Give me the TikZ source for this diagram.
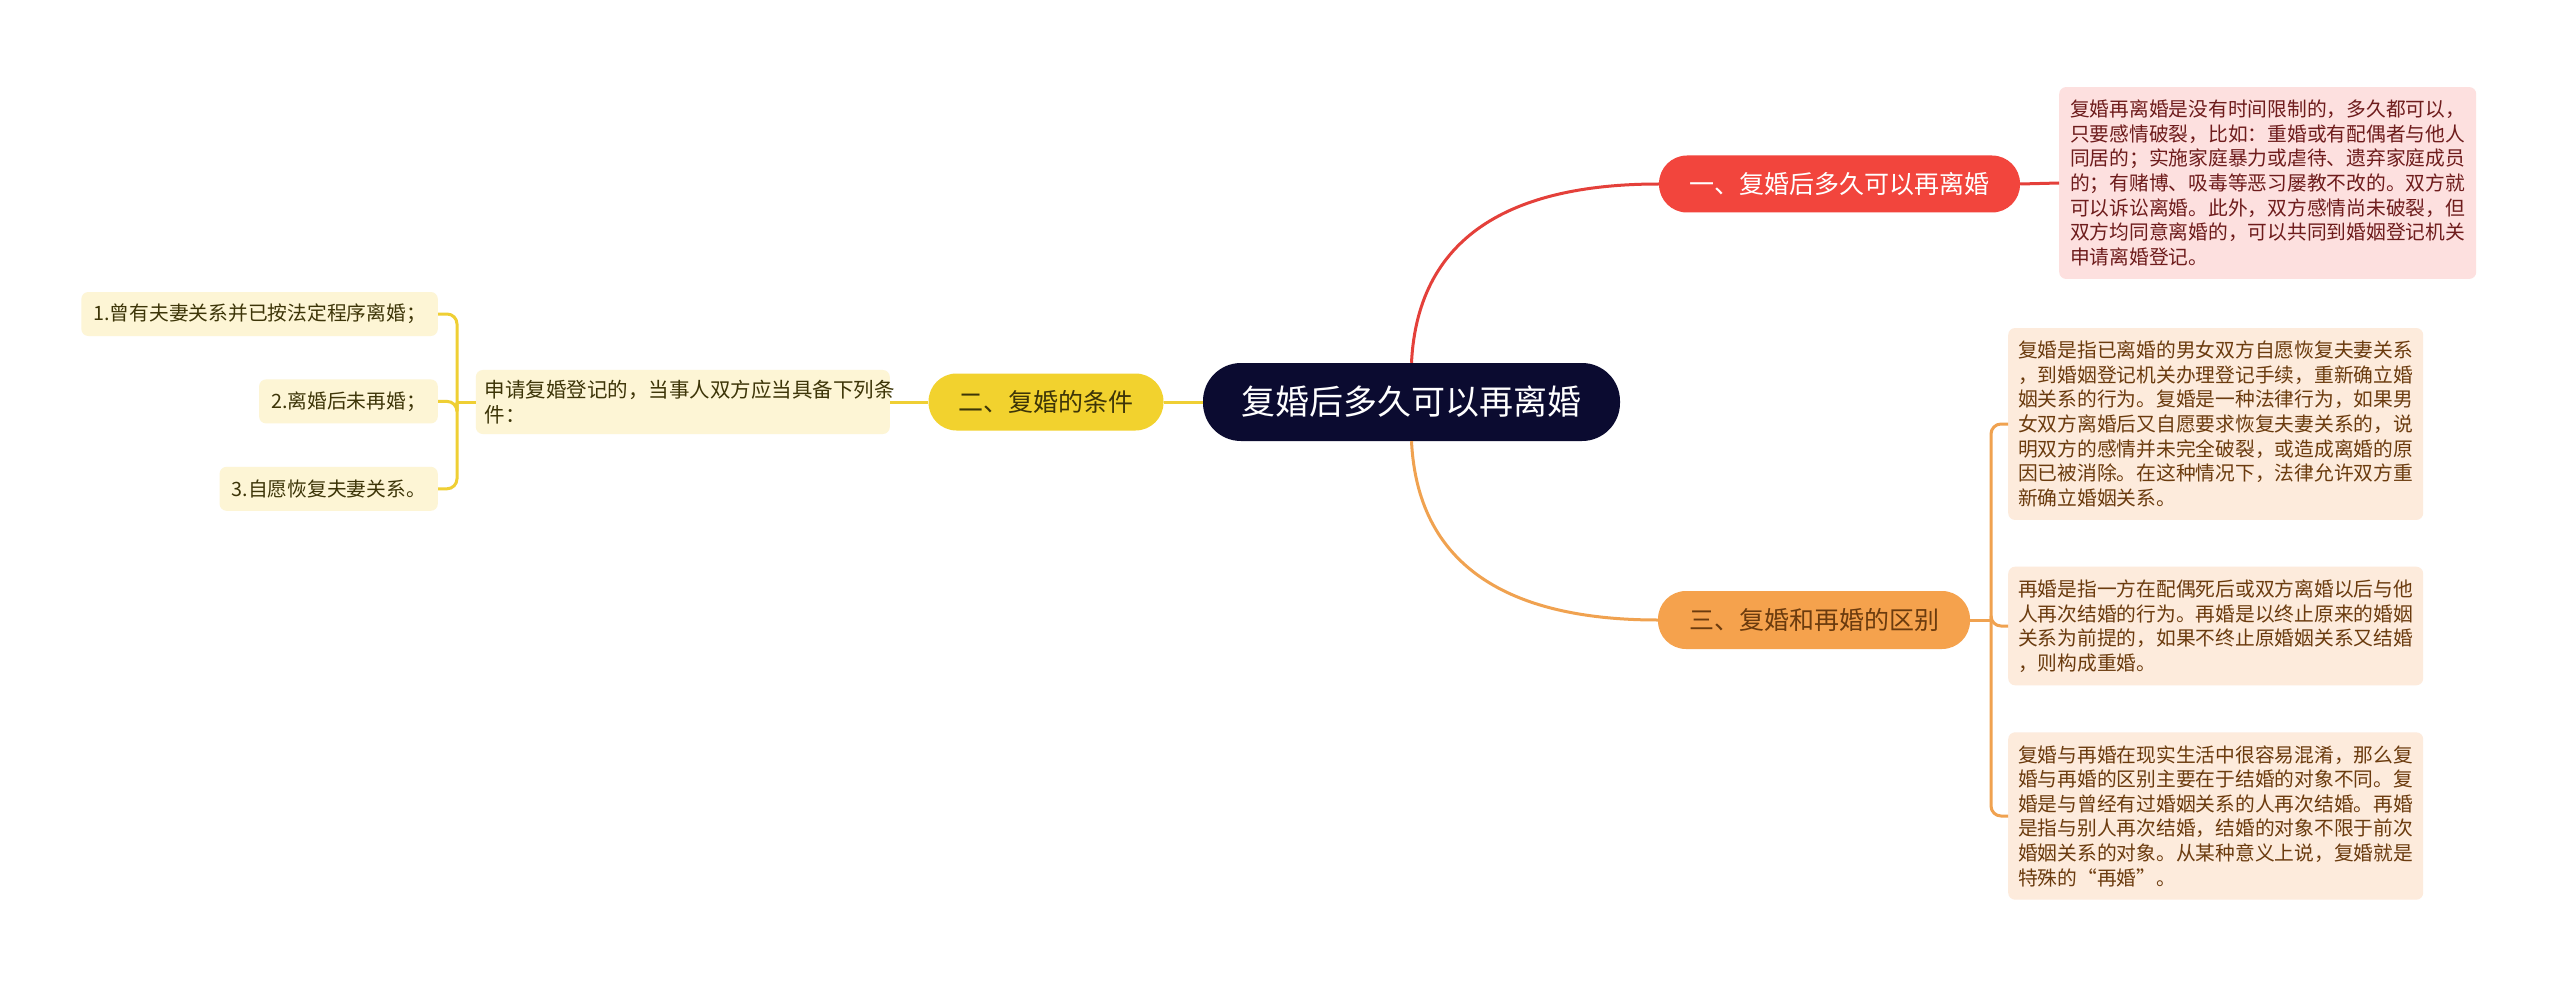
\documentclass[tikz,border=0pt]{standalone}
\usepackage{fontspec}
\setmainfont{Noto Sans CJK SC}
\usepackage{xcolor}
\usepackage{tikz}
\usetikzlibrary{positioning,calc}
\definecolor{navy}{HTML}{0B0B30}
\definecolor{redb}{HTML}{F2453D}
\definecolor{redl}{HTML}{E4403A}
\definecolor{pinkleaf}{HTML}{FDE0DF}
\definecolor{pinktext}{HTML}{6E1C1C}
\definecolor{yelb}{HTML}{F2D22E}
\definecolor{yell}{HTML}{EFCF34}
\definecolor{yelleaf}{HTML}{FDF5D5}
\definecolor{yeltext}{HTML}{3D3508}
\definecolor{orab}{HTML}{F5A24D}
\definecolor{oral}{HTML}{F0A250}
\definecolor{oraleaf}{HTML}{FDEBDC}
\definecolor{oratext}{HTML}{6B3B0E}

\begin{document}
\begin{tikzpicture}[
  x=1pt, y=-1pt,
  root/.style={fill=navy, text=white, rounded corners=38pt, minimum width=417pt, minimum height=78pt, inner sep=0pt, font=\fontsize{34}{40}\selectfont},
  topic/.style={rounded corners=28pt, minimum height=57pt, inner sep=0pt, font=\fontsize{25}{30}\selectfont},
  note/.style={rounded corners=7pt, align=left, text width=395pt, inner xsep=10pt, inner ysep=13pt, font=\fontsize{19.75}{24.6}\selectfont},
  item/.style={fill=yelleaf, text=yeltext, rounded corners=7pt, inner xsep=12pt, inner ysep=0pt, minimum height=44pt, font=\fontsize{19.75}{24}\selectfont},
  link/.style={line width=3pt},
]
\useasboundingbox[fill=white] (0,0) rectangle (2560,987);

\node[root] (r) at (1411.5,402) {复婚后多久可以再离婚};
\node[topic, fill=redb, text=white, minimum width=361pt] (t1) at (1839.5,184) {一、复婚后多久可以再离婚};
\node[topic, fill=yelb, text=yeltext, minimum width=235pt] (t2) at (1046,402) {二、复婚的条件};
\node[topic, fill=orab, text=oratext, minimum width=312pt, minimum height=58pt] (t3) at (1814,620) {三、复婚和再婚的区别};

\node[note, fill=pinkleaf, text=pinktext, anchor=west, inner xsep=11pt] (n1) at (2059,183) {复婚再离婚是没有时间限制的，多久都可以，\\只要感情破裂，比如：重婚或有配偶者与他人\\同居的；实施家庭暴力或虐待、遗弃家庭成员\\的；有赌博、吸毒等恶习屡教不改的。双方就\\可以诉讼离婚。此外，双方感情尚未破裂，但\\双方均同意离婚的，可以共同到婚姻登记机关\\申请离婚登记。};

\node[note, fill=oraleaf, text=oratext, anchor=west] (n2) at (2008,424) {复婚是指已离婚的男女双方自愿恢复夫妻关系\\，到婚姻登记机关办理登记手续，重新确立婚\\姻关系的行为。复婚是一种法律行为，如果男\\女双方离婚后又自愿要求恢复夫妻关系的，说\\明双方的感情并未完全破裂，或造成离婚的原\\因已被消除。在这种情况下，法律允许双方重\\新确立婚姻关系。};
\node[note, fill=oraleaf, text=oratext, anchor=west] (n3) at (2008,626) {再婚是指一方在配偶死后或双方离婚以后与他\\人再次结婚的行为。再婚是以终止原来的婚姻\\关系为前提的，如果不终止原婚姻关系又结婚\\，则构成重婚。};
\node[note, fill=oraleaf, text=oratext, anchor=west] (n4) at (2008,816) {复婚与再婚在现实生活中很容易混淆，那么复\\婚与再婚的区别主要在于结婚的对象不同。复\\婚是与曾经有过婚姻关系的人再次结婚。再婚\\是指与别人再次结婚，结婚的对象不限于前次\\婚姻关系的对象。从某种意义上说，复婚就是\\特殊的“再婚”。};

\node[note, fill=yelleaf, text=yeltext, anchor=east, text width=396pt, inner xsep=9pt, inner ysep=10pt, font=\fontsize{20.5}{25}\selectfont] (s2) at (890,402) {申请复婚登记的，当事人双方应当具备下列条\\件：};

\node[item, anchor=east] (i1) at (438,314) {1.曾有夫妻关系并已按法定程序离婚；};
\node[item, below=43pt of i1.south east, anchor=north east] (i2) {2.离婚后未再婚；};
\node[item, below=43pt of i2.south east, anchor=north east] (i3) {3.自愿恢复夫妻关系。};

\coordinate (j2) at (457,402);
\coordinate (j3) at (1991,620);

\draw[link, redl] (r.north) .. controls (1418,230) and (1520,184) .. (t1.west);
\draw[link, redl] (t1.east) -- (n1.west);
\draw[link, yell] (r.west) -- (t2.east);
\draw[link, yell] (t2.west) -- (s2.east);
\draw[link, yell] (s2.west) -- (j2);
\foreach \n in {i1,i2,i3} \draw[link, yell, rounded corners=10pt] (j2) |- (\n.east);
\draw[link, oral] (r.south) .. controls (1418,574) and (1520,620) .. (t3.west);
\draw[link, oral] (t3.east) -- (j3);
\foreach \n in {n2,n3,n4} \draw[link, oral, rounded corners=10pt] (j3) |- (\n.west);
\end{tikzpicture}
\end{document}
